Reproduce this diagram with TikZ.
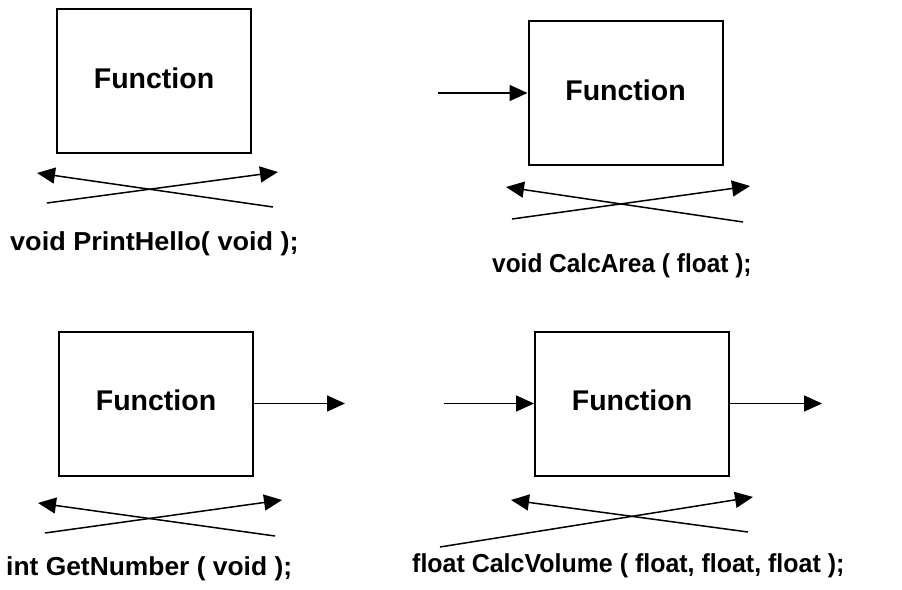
\documentclass[tikz,border=0pt]{standalone}
\usepackage{fontspec}
\setmainfont{Liberation Sans}
\usetikzlibrary{arrows.meta}
\begin{document}
\begin{tikzpicture}[x=1pt,y=-1pt,
  fbox/.style={draw=black,line width=2pt,minimum width=194pt,minimum height=144pt,inner sep=0pt},
  fntext/.style={font=\fontsize{28.5}{30}\selectfont\bfseries,inner sep=0pt},
  sig/.style={font=\fontsize{26}{30}\selectfont\bfseries,inner sep=0pt,anchor=base west},
  arr/.style={line width=1.5pt,-{Triangle[length=18pt,width=16pt]}},
  ln/.style={line width=1.5pt}]
\useasboundingbox (0,0) rectangle (902,589);
% panel 1
\node[fbox] (b1) at (154,81) {};
\node[fntext] (f1) at ([yshift=3pt]b1.center) {Function};
\coordinate (c1a) at (273,207); \coordinate (c1b) at (37,173);
\coordinate (c1c) at (47,203); \coordinate (c1d) at (278,172);
\draw[arr] (c1a) -- (c1b);
\draw[arr] (c1c) -- (c1d);
\node[sig] (s1) at (10,250) {\scalebox{1.04}[1]{void PrintHello( void );}};
% panel 2
\node[fbox] (b2) at (625.5,93) {};
\node[fntext] (f2) at ([yshift=3pt]b2.center) {Function};
\coordinate (i2) at (438,93);
\draw[arr] (i2) -- (b2.west);
\coordinate (c2a) at (743,222); \coordinate (c2b) at (506,187);
\coordinate (c2c) at (512,219); \coordinate (c2d) at (750,186);
\draw[arr] (c2a) -- (c2b);
\draw[arr] (c2c) -- (c2d);
\node[sig] (s2) at (492,272) {\scalebox{0.94}[1]{void CalcArea ( float );}};
% panel 3
\node[fbox] (b3) at (156,403.5) {};
\node[fntext] (f3) at ([yshift=3pt]b3.center) {Function};
\coordinate (o3) at (345,403.5);
\draw[arr] (b3.east) -- (o3);
\coordinate (c3a) at (275,536); \coordinate (c3b) at (38,503);
\coordinate (c3c) at (45,533); \coordinate (c3d) at (282,500);
\draw[arr] (c3a) -- (c3b);
\draw[arr] (c3c) -- (c3d);
\node[sig] (s3) at (6,575) {\scalebox{1.015}[1]{int GetNumber ( void );}};
% panel 4
\node[fbox] (b4) at (632,403.5) {};
\node[fntext] (f4) at ([yshift=3pt]b4.center) {Function};
\coordinate (i4) at (444,403.5);
\coordinate (o4) at (822,403.5);
\draw[arr] (i4) -- (b4.west);
\draw[arr] (b4.east) -- (o4);
\coordinate (c4a) at (748,532); \coordinate (c4b) at (511,500);
\coordinate (c4c) at (440,547); \coordinate (c4d) at (753,497);
\draw[arr] (c4a) -- (c4b);
\draw[arr] (c4c) -- (c4d);
\node[sig] (s4) at (412,572) {\scalebox{0.96}[1]{float CalcVolume ( float, float, float );}};
\end{tikzpicture}
\end{document}
